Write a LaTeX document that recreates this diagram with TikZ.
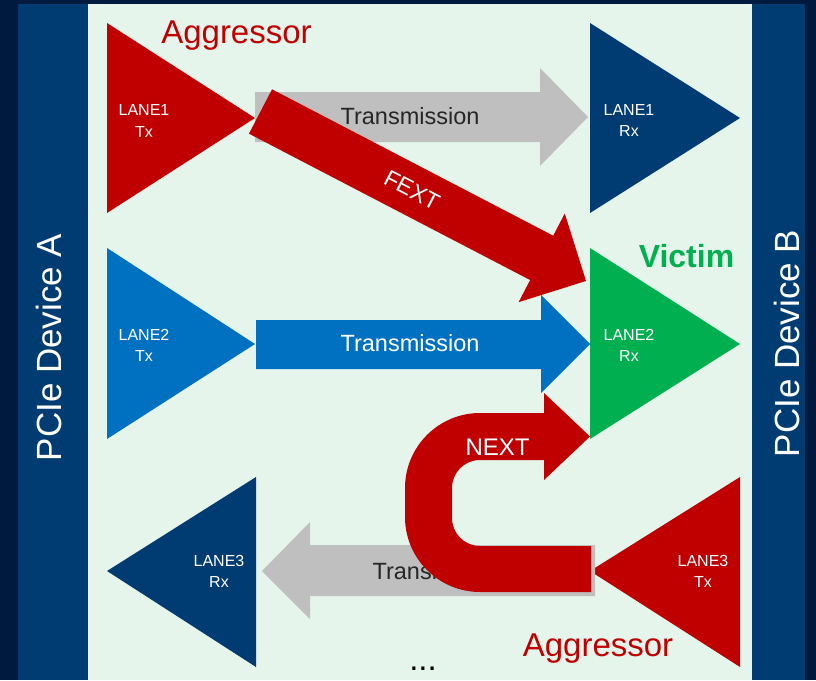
\documentclass[tikz,border=0pt]{standalone}
\usepackage{fontspec}
\setmainfont{Liberation Sans}
\definecolor{cdark}{HTML}{001A3F}
\definecolor{cbar}{HTML}{003C71}
\definecolor{cpanel}{HTML}{E6F5EC}
\definecolor{cred}{HTML}{C00000}
\definecolor{cnavy}{HTML}{003C71}
\definecolor{cblue}{HTML}{0070C0}
\definecolor{cgreen}{HTML}{00B050}
\definecolor{cgray}{HTML}{BFBFBF}
\definecolor{ctext}{HTML}{262626}
\begin{document}
\begin{tikzpicture}[x=1pt,y=-1pt,
  lanelbl/.style={font=\fontsize{16}{19}\selectfont, text=white, anchor=base, inner sep=0pt},
  txlbl/.style={font=\fontsize{23.5}{28}\selectfont, anchor=base, inner sep=0pt},
  bigred/.style={font=\fontsize{33}{40}\selectfont, text=cred, anchor=base, inner sep=0pt},
  devlbl/.style={font=\fontsize{35}{42}\selectfont, text=white, rotate=90, inner sep=0pt},
  xtlbl/.style={font=\fontsize{24}{28}\selectfont, text=white, inner sep=0pt}]
% background
\fill[cdark] (0,0) rectangle (816,680);
\useasboundingbox (0,0) rectangle (816,680);
\fill[cbar] (18,4) rectangle (88,680);
\fill[cbar] (752,4) rectangle (805,680);
\fill[cpanel] (88,4) rectangle (752,680);
% lane triangles
\fill[cred]   (107,23) -- (255,118) -- (107,213) -- cycle;
\fill[cnavy]  (590,23) -- (740,118) -- (590,213) -- cycle;
\fill[cblue]  (107,248) -- (255,344) -- (107,439) -- cycle;
\fill[cgreen] (590,248) -- (740,344) -- (590,439) -- cycle;
\fill[cnavy]  (256,477) -- (107,571) -- (256,667) -- cycle;
\fill[cred]   (740,477) -- (590,571) -- (740,667) -- cycle;
% transmission arrows
\fill[cgray] (255,92) -- (540,92) -- (540,68) -- (588,117) -- (540,166) -- (540,142) -- (255,142) -- cycle;
\fill[cblue] (256,320) -- (541,320) -- (541,295) -- (590,344) -- (541,393) -- (541,369) -- (256,369) -- cycle;
\fill[cgray] (595,545) -- (310,545) -- (310,522) -- (262,571) -- (310,619) -- (310,596) -- (595,596) -- cycle;
\node[txlbl, text=ctext] (tr1) at (410,124) {Transmission};
\node[txlbl, text=white] (tr2) at (410,351) {Transmission};
\node[txlbl, text=ctext] (tr3) at (442,579) {Transmission};
% FEXT arrow
\begin{scope}[shift={(260.5,111.5)}, rotate=-27.5]
  \fill[cred] (0,-25) -- (317,-25) -- (317,-50) -- (367,0) -- (317,50) -- (317,25) -- (0,25) -- cycle;
\end{scope}
\node[xtlbl, rotate=-27.5, font=\fontsize{23}{28}\selectfont] (fext) at (412,190) {FEXT};
% NEXT arrow
\fill[cred] (591,592) -- (480,592) .. controls (438.6,592) and (405,558.4) .. (405,517)
  -- (405,488) .. controls (405,446.6) and (438.6,413) .. (480,413)
  -- (544,413) -- (544,393) -- (590,436.5) -- (544,480) -- (544,460) -- (480,460)
  .. controls (464.5,460) and (452,472.5) .. (452,488)
  -- (452,518) .. controls (452,533.5) and (464.5,546) .. (480,546)
  -- (591,546) -- cycle;
\node[xtlbl, anchor=base] (next) at (497.5,455) {NEXT};
% lane labels
\node[lanelbl] (l1a) at (144,115) {LANE1};
\node[lanelbl] (l1b) at (144,137) {Tx};
\node[lanelbl] (r1a) at (629,115) {LANE1};
\node[lanelbl] (r1b) at (629,136) {Rx};
\node[lanelbl] (l2a) at (144,340) {LANE2};
\node[lanelbl] (l2b) at (144,361) {Tx};
\node[lanelbl] (r2a) at (629,340) {LANE2};
\node[lanelbl] (r2b) at (629,361) {Rx};
\node[lanelbl] (l3a) at (219,566) {LANE3};
\node[lanelbl] (l3b) at (219,587) {Rx};
\node[lanelbl] (r3a) at (703,566) {LANE3};
\node[lanelbl] (r3b) at (703,587) {Tx};
% big labels
\node[bigred] (agg1) at (236.5,43) {Aggressor};
\node[bigred] (agg2) at (598,656) {Aggressor};
\node[anchor=base, inner sep=0pt, text=cgreen, font=\bfseries\fontsize{32}{36}\selectfont] (vic) at (686.5,267) {Victim};
\node[devlbl] (devA) at (49,347.5) {PCIe Device A};
\node[devlbl] (devB) at (787,343.5) {PCIe Device B};
\node[anchor=base, inner sep=0pt, font=\fontsize{33}{40}\selectfont, text=black] (dots) at (423,670) {...};
\end{tikzpicture}
\end{document}
